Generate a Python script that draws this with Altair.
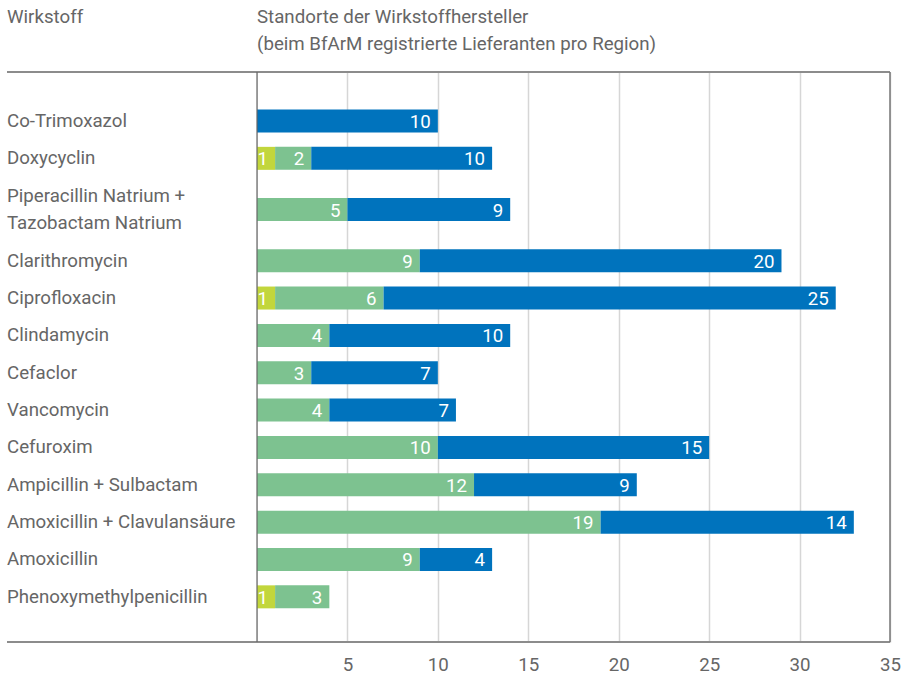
import altair as alt
import pandas as pd

drugs = [
    "Co-Trimoxazol",
    "Doxycyclin",
    "Piperacillin Natrium + Tazobactam Natrium",
    "Clarithromycin",
    "Ciprofloxacin",
    "Clindamycin",
    "Cefaclor",
    "Vancomycin",
    "Cefuroxim",
    "Ampicillin + Sulbactam",
    "Amoxicillin + Clavulansäure",
    "Amoxicillin",
    "Phenoxymethylpenicillin",
]
series = ["A", "B", "C"]
lime_vals = [0, 1, 0, 0, 1, 0, 0, 0, 0, 0, 0, 0, 1]
green_vals = [0, 2, 5, 9, 6, 4, 3, 4, 10, 12, 19, 9, 3]
blue_vals = [10, 10, 9, 20, 25, 10, 7, 7, 15, 9, 14, 4, 0]
colors = ["#c2d63c", "#7dc290", "#0073bd"]
tick_values = [5, 10, 15, 20, 25, 30, 35]
MULTI = "Piperacillin Natrium + Tazobactam Natrium"

rows = []
for i, d in enumerate(drugs):
    for j, (s, v) in enumerate(zip(series, [lime_vals[i], green_vals[i], blue_vals[i]])):
        rows.append({"drug": d, "idx": i, "series": s, "order": j, "value": v})
df = pd.DataFrame(rows)
label_df = pd.DataFrame({"drug": drugs, "idx": list(range(len(drugs)))})

FONT = "Roboto"
FS = 18.7
GRAY = "#666666"
W, H = 633, 570

# rows are evenly spaced, the two-line row gets extra room above and below
slot_expr = "datum.idx + (datum.idx >= 2 ? 0.37 : 0) + (datum.idx >= 3 ? 0.37 : 0)"
y_scale = alt.Scale(domain=[-1.312, 13.949], reverse=True, nice=False, zero=False, padding=0)

x_enc = alt.X(
    "x0:Q",
    scale=alt.Scale(domain=[0, 35], nice=False, zero=True, padding=0),
    axis=alt.Axis(
        values=tick_values, title=None, domain=False, ticks=False,
        labelPadding=13, labelFont=FONT, labelFontSize=FS, labelColor=GRAY,
        labelFlush=False, labelOverlap=False,
        grid=True, gridColor="#d6d6d6", gridWidth=1.5,
    ),
)
y_enc = alt.Y("slot:Q", scale=y_scale, axis=None)

base = (
    alt.Chart(df)
    .transform_filter("datum.value > 0")
    .transform_calculate(slot=slot_expr)
    .transform_stack(stack="value", groupby=["drug"], as_=["x0", "x1"], sort=[alt.SortField("order")])
)

bars = base.mark_bar(size=23, orient="horizontal").encode(
    x=x_enc,
    x2="x1:Q",
    y=y_enc,
    color=alt.Color("series:N", scale=alt.Scale(domain=series, range=colors), legend=None),
)

values = base.mark_text(
    align="right", baseline="middle", dx=-7, dy=1, color="white", font=FONT, fontSize=FS
).encode(
    x="x1:Q",
    y=alt.Y("slot:Q", scale=y_scale, axis=None),
    text="value:Q",
)

lab_base = alt.Chart(label_df).transform_calculate(slot=slot_expr)
labels_single = lab_base.transform_filter(f"datum.drug != '{MULTI}'").mark_text(
    align="left", baseline="middle", font=FONT, fontSize=FS, color=GRAY
).encode(
    x=alt.value(-250),
    y=alt.Y("slot:Q", scale=y_scale, axis=None),
    text="drug:N",
)
labels_multi = lab_base.transform_filter(f"datum.drug == '{MULTI}'").transform_calculate(
    lab="replace(datum.drug, ' + Tazobactam', ' +|Tazobactam')"
).mark_text(
    align="left", baseline="middle", font=FONT, fontSize=FS, color=GRAY,
    lineBreak="|", lineHeight=27, dy=-13.5,
).encode(
    x=alt.value(-250),
    y=alt.Y("slot:Q", scale=y_scale, axis=None),
    text="lab:N",
)

rule_df = pd.DataFrame({"k": [0]})
line_color = "#8c8c8c"
top_rule = alt.Chart(rule_df).mark_rule(color=line_color, strokeWidth=2).encode(
    x=alt.value(-250), x2=alt.value(W), y=alt.value(0)
)
bottom_rule = alt.Chart(rule_df).mark_rule(color=line_color, strokeWidth=2).encode(
    x=alt.value(-250), x2=alt.value(W), y=alt.value(H)
)
right_rule = alt.Chart(rule_df).mark_rule(color="#777777", strokeWidth=1.5).encode(
    x=alt.value(W), y=alt.value(0), y2=alt.value(H)
)
left_rule = alt.Chart(rule_df).mark_rule(color="#666666", strokeWidth=1.2).encode(
    x=alt.value(0), y=alt.value(0), y2=alt.value(H)
)

hdr1 = alt.Chart(rule_df).mark_text(
    align="left", baseline="alphabetic", font=FONT, fontSize=FS, color=GRAY, text="Wirkstoff"
).encode(x=alt.value(-250), y=alt.value(-49))
hdr2 = alt.Chart(rule_df).mark_text(
    align="left", baseline="alphabetic", font=FONT, fontSize=FS, color=GRAY,
    text="Standorte der Wirkstoffhersteller",
).encode(x=alt.value(0), y=alt.value(-49))
hdr3 = alt.Chart(rule_df).mark_text(
    align="left", baseline="alphabetic", font=FONT, fontSize=FS, color=GRAY,
    text="(beim BfArM registrierte Lieferanten pro Region)",
).encode(x=alt.value(0), y=alt.value(-22))

chart = alt.layer(
    bars, values, labels_single, labels_multi,
    top_rule, bottom_rule, right_rule, left_rule, hdr1, hdr2, hdr3
).properties(
    width=W, height=H,
    autosize=alt.AutoSizeParams(type="none"),
    padding={"left": 257, "top": 72, "right": 21, "bottom": 33},
).configure_view(stroke=None).configure(background="white")

chart.save("out.html", embed_options={"renderer": "svg", "actions": False})
